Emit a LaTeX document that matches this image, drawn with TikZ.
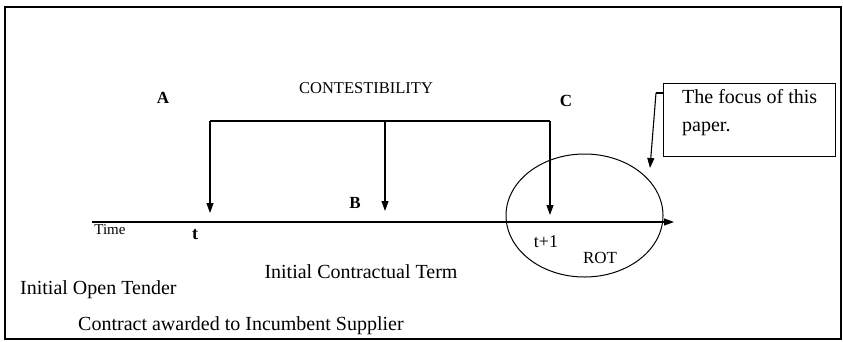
\documentclass[tikz,border=0pt]{standalone}
\usepackage{fontspec}
\setmainfont{Liberation Serif}
\usetikzlibrary{arrows.meta,shapes.geometric}
\begin{document}
\begin{tikzpicture}[x=1pt,y=-1pt,
  lbl/.style={inner sep=0pt,font=\fontsize{20}{28}\selectfont},
  bigl/.style={inner sep=0pt,font=\fontsize{17}{19}\selectfont\bfseries},
  arr/.style={-{Triangle[length=10pt,width=7pt]},line width=1.1pt},
  ln/.style={line width=1.1pt}]
\useasboundingbox (0,0) rectangle (843,341);
\node[draw,line width=1.6pt,minimum width=836pt,minimum height=332pt,anchor=north west,inner sep=0pt] (frame) at (4,6) {};
% time axis
\coordinate (ax0) at (92,222);
\coordinate (ax1) at (674,222);
\draw[arr] (ax0) -- (ax1);
% bracket
\coordinate (bl) at (210,121);
\coordinate (bm) at (385,121);
\coordinate (br) at (550,121);
\coordinate (tl) at (210,213);
\coordinate (tm) at (385,211);
\coordinate (tr) at (550,215);
\draw[ln] (bl) -- (br);
\draw[arr] (bl) -- (tl);
\draw[arr] (bm) -- (tm);
\draw[arr] (br) -- (tr);
% ellipse
\node[draw,ellipse,line width=1pt,minimum width=157pt,minimum height=123pt,inner sep=0pt] (ell) at (584.5,215.5) {};
% focus box
\node[draw,line width=1.2pt,minimum width=172pt,minimum height=73pt,anchor=north west,inner sep=0pt] (box) at (663,83) {};
\node[lbl,anchor=west,align=left] (focus) at (682,113) {The focus of this\\paper.};
\coordinate (fa) at (656,93);
\coordinate (fb) at (650,168);
\draw[ln] (box.west |- fa) -- (fa);
\draw[arr] (fa) -- (fb);
% labels
\node[bigl] (A) at (163,98) {A};
\node[bigl] (B) at (355,203) {B};
\node[bigl] (C) at (566,101) {C};
\node[inner sep=0pt,font=\fontsize{16.5}{19}\selectfont] (cont) at (366,88) {CONTESTIBILITY};
\node[inner sep=0pt,font=\fontsize{15}{17}\selectfont] (time) at (110,230) {Time};
\node[inner sep=0pt,font=\fontsize{18}{20}\selectfont\bfseries] (t) at (195,235) {t};
\node[inner sep=0pt,font=\fontsize{18}{20}\selectfont] (t1) at (546,242) {t+1};
\node[inner sep=0pt,font=\fontsize{17}{19}\selectfont] (rot) at (600,258) {ROT};
\node[lbl] (ict) at (361,272) {Initial Contractual Term};
\node[lbl,anchor=west] (iot) at (20,290) {Initial Open Tender};
\node[lbl,anchor=west] (cai) at (78,326) {Contract awarded to Incumbent Supplier};
\end{tikzpicture}
\end{document}
